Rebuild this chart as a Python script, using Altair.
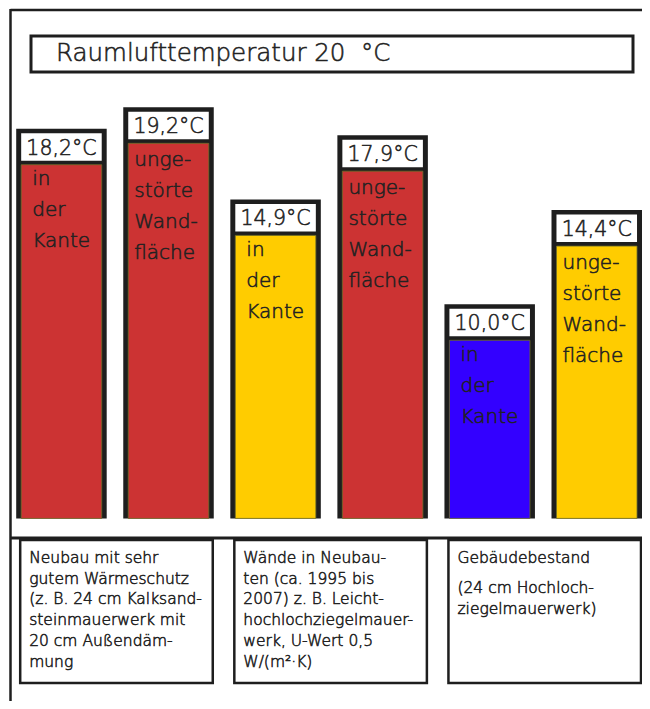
import altair as alt
import pandas as pd

# ---- data ----
bar_ids = ["b1", "b2", "b3", "b4", "b5", "b6"]
values = [18.2, 19.2, 14.9, 17.9, 10.0, 14.4]
value_labels = ["18,2°C", "19,2°C", "14,9°C", "17,9°C", "10,0°C", "14,4°C"]
kinds = ["Kante", "Wand", "Kante", "Wand", "Kante", "Wand"]
inner_texts = {
    "Kante": "in\nder\nKante",
    "Wand": "unge-\nstörte\nWand-\nfläche",
}
fill_colors = ["#cc3333", "#cc3333", "#ffcc00", "#cc3333", "#3300ff", "#ffcc00"]

group_first = ["b1", "b3", "b5"]
group_last = ["b2", "b4", "b6"]
group_text1 = [
    "Neubau mit sehr\ngutem Wärmeschutz\n(z. B. 24 cm Kalksand-\nsteinmauerwerk mit\n20 cm Außendäm-\nmung",
    "Wände in Neubau-\nten (ca. 1995 bis\n2007) z. B. Leicht-\nhochlochziegelmauer-\nwerk, U-Wert 0,5\nW/(m²·K)",
    "Gebäudebestand",
]
group_text2 = ["", "", "(24 cm Hochloch-\nziegelmauerwerk)"]

title_text = "Raumlufttemperatur 20\u00a0 °C"

FONT = "DejaVu Sans"
TXT = "#222222"
BLACK = "#1e1e1e"
FW = 300
TS = dict(stroke=TXT, strokeWidth=0.55)

bars = pd.DataFrame({
    "id": bar_ids,
    "v": values,
    "label": value_labels,
    "kind": kinds,
    "inner": [inner_texts[k] for k in kinds],
    "color": fill_colors,
})
groups = pd.DataFrame({
    "first": group_first,
    "last": group_last,
    "t1": group_text1,
    "t2": group_text2,
})
title_df = pd.DataFrame({"t": [title_text]})

W, H = 634, 693
xscale = alt.Scale(domain=bar_ids, paddingInner=0.1547, paddingOuter=0.0383, align=1)
yscale = alt.Scale(domain=[-8.53, 23.84], zero=False, nice=False)

X = alt.X("id:N", scale=xscale, axis=None)
X0 = alt.X("id:N", scale=xscale, axis=None, bandPosition=0)
Y = alt.Y("v:Q", scale=yscale, axis=None)
BASE = 530

base = alt.Chart(bars)

# frame
frame_top = alt.Chart(title_df).mark_rule(color=BLACK, strokeWidth=2.5).encode(
    x=alt.value(2.5), x2=alt.value(W), y=alt.value(2)
)
frame_left = alt.Chart(title_df).mark_rule(color=BLACK, strokeWidth=2.5).encode(
    x=alt.value(2.5), y=alt.value(1), y2=alt.value(H)
)

title_box = alt.Chart(title_df).mark_rect(fill="white", stroke=BLACK, strokeWidth=3).encode(
    x=alt.value(23), x2=alt.value(625), y=alt.value(28), y2=alt.value(64)
)
title_txt = alt.Chart(title_df).mark_text(
    align="left", baseline="alphabetic", fontSize=24.5, font=FONT, color=TXT, fontWeight=FW, **TS
).encode(x=alt.value(48), y=alt.value(53), text="t:N")

black_bars = base.mark_bar(color=BLACK).encode(x=X, y=Y, y2=alt.value(BASE))
white_box = base.mark_bar(color="white", width={"band": 0.89}, yOffset=4.5, y2Offset=32).encode(
    x=X, y=Y, y2=alt.Y2("v:Q")
)
fills = base.mark_bar(width={"band": 0.89}, yOffset=36, stroke="#6f6f2a", strokeWidth=0.8).encode(
    x=X, y=Y, y2=alt.value(BASE), color=alt.Color("color:N", scale=None)
)
val_txt = base.mark_text(
    align="center", baseline="alphabetic", fontSize=20.5, font=FONT, color=TXT, dy=26, fontWeight=FW, **TS
).encode(x=X, y=Y, text="label:N")
inner_k = base.transform_filter(alt.datum.kind == "Kante").mark_text(
    align="left", baseline="alphabetic", fontSize=20, font=FONT, color=TXT, fontWeight=FW,
    lineBreak="\n", lineHeight=31, dx=16, dy=56.5, **TS
).encode(x=X0, y=Y, text="inner:N")
inner_w = base.transform_filter(alt.datum.kind == "Wand").mark_text(
    align="left", baseline="alphabetic", fontSize=20, font=FONT, color=TXT, fontWeight=FW,
    lineBreak="\n", lineHeight=31, dx=11, dy=59, **TS
).encode(x=X0, y=Y, text="inner:N")

baseline = alt.Chart(title_df).mark_rule(color=BLACK, strokeWidth=3).encode(
    x=alt.value(3), x2=alt.value(W), y=alt.value(BASE)
)

gbase = alt.Chart(groups)
GX = alt.X("first:N", scale=xscale, axis=None, bandPosition=0)
gboxes = gbase.mark_rect(fill="white", stroke=BLACK, strokeWidth=2.5, xOffset=4, x2Offset=-1).encode(
    x=GX,
    x2=alt.X2("last:N", bandPosition=1),
    y=alt.value(532), y2=alt.value(675),
)
gtext1 = gbase.mark_text(
    align="left", baseline="alphabetic", fontSize=15.5, font=FONT, color=TXT, fontWeight=FW,
    lineBreak="\n", lineHeight=20.7, dx=13, **TS
).encode(x=GX, y=alt.value(555), text="t1:N")
gtext2 = gbase.mark_text(
    align="left", baseline="alphabetic", fontSize=15.5, font=FONT, color=TXT, fontWeight=FW,
    lineBreak="\n", lineHeight=20.7, dx=13, **TS
).encode(x=GX, y=alt.value(585), text="t2:N")

chart = alt.layer(
    frame_top, frame_left, title_box, title_txt,
    black_bars, white_box, fills, val_txt, inner_k, inner_w,
    baseline, gboxes, gtext1, gtext2,
).properties(
    width=W, height=H, padding=0, autosize="none"
).configure_view(strokeWidth=0)

chart.save("out.html", embed_options={"renderer": "svg", "actions": False})
